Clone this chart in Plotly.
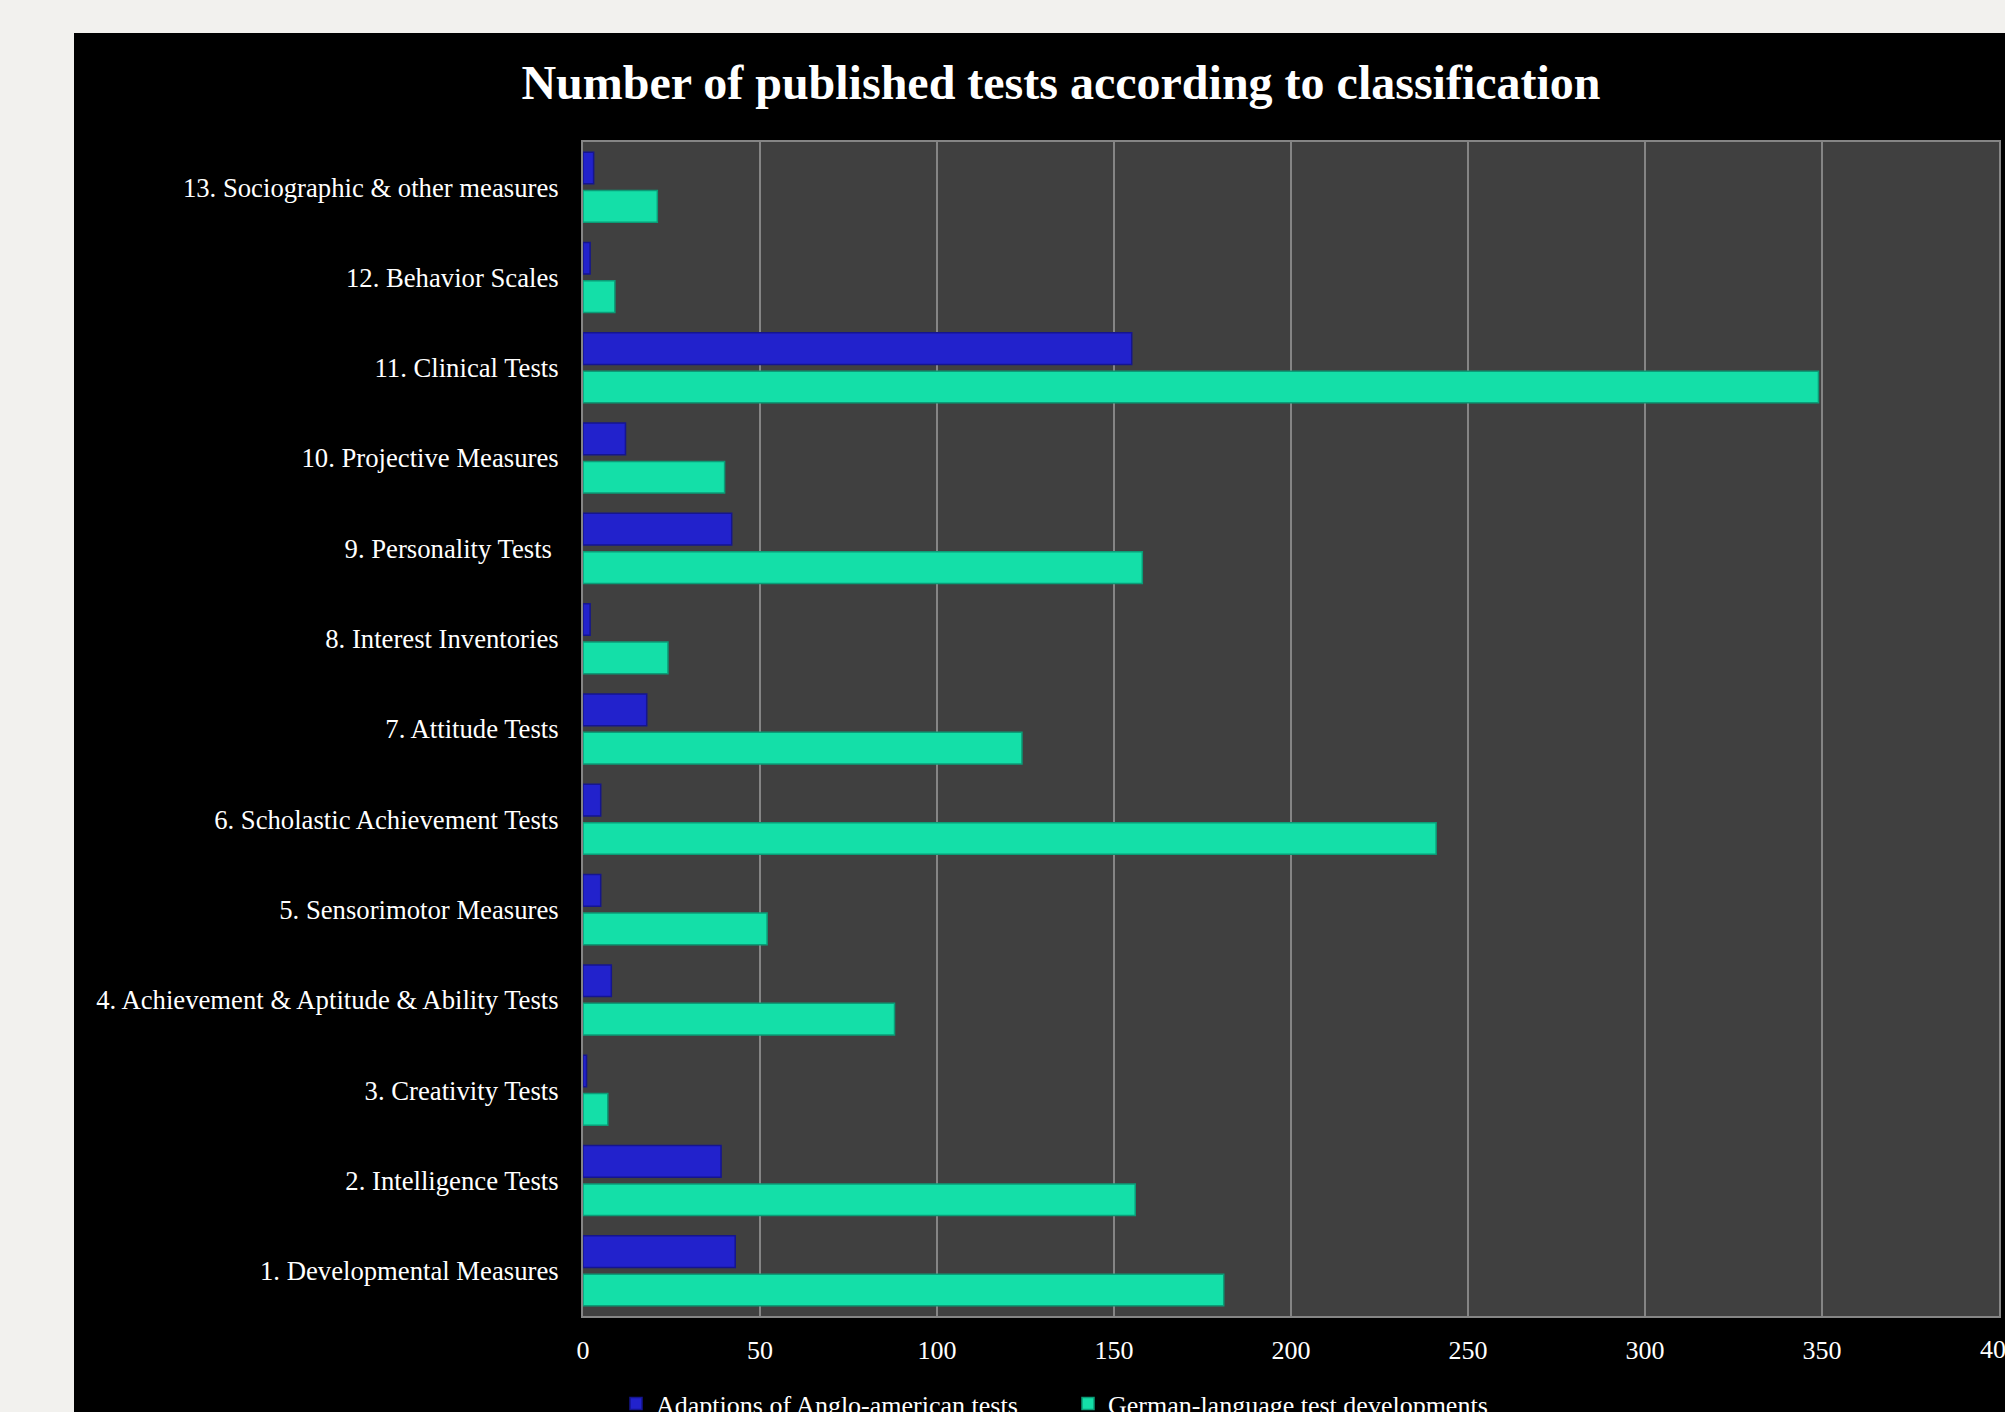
import plotly.graph_objects as go

categories = [
    "1. Developmental Measures",
    "2. Intelligence Tests",
    "3. Creativity Tests",
    "4. Achievement & Aptitude & Ability Tests",
    "5. Sensorimotor Measures",
    "6. Scholastic Achievement Tests",
    "7. Attitude Tests",
    "8. Interest Inventories",
    "9. Personality Tests\u00a0",
    "10. Projective Measures",
    "11. Clinical Tests",
    "12. Behavior Scales",
    "13. Sociographic & other measures",
]
adaptions = [43, 39, 1, 8, 5, 5, 18, 2, 42, 12, 155, 2, 3]
german = [181, 156, 7, 88, 52, 241, 124, 24, 158, 40, 349, 9, 21]
x_ticks = [0, 50, 100, 150, 200, 250, 300, 350]
x_ticklabels = ["0", "50", "100", "150", "200", "250", "300", "350"]
x_last_tick = 400
x_last_label = "400"

title_text = "Number of published tests according to classification"
series_names = ["Adaptions of Anglo-american tests", "German-language test developments"]

W, H = 2005, 1412
ML, MR, MT, MB = 583, 6, 142, 96
PW, PH = W - ML - MR, H - MT - MB

def px_x(p):
    return (p - ML) / PW

def px_y(p):
    return (H - MB - p) / PH

FONT = "Liberation Serif, Times New Roman, serif"

fig = go.Figure()
fig.add_trace(go.Bar(
    y=categories, x=adaptions, orientation="h", name=series_names[0],
    marker=dict(color="#2222cc", line=dict(color="#15158f", width=1.5)),
))
fig.add_trace(go.Bar(
    y=categories, x=german, orientation="h", name=series_names[1],
    marker=dict(color="#14dfa8", line=dict(color="#0b9c77", width=1.5)),
))

fig.add_annotation(
    x=x_last_tick, xref="x", y=px_y(1349), yref="paper",
    text=x_last_label, showarrow=False, xanchor="center", yanchor="middle",
    font=dict(family=FONT, size=26, color="#ffffff"),
)

fig.update_layout(
    width=W, height=H,
    margin=dict(l=ML, r=MR, t=MT, b=MB, pad=0, autoexpand=False),
    paper_bgcolor="#000000",
    plot_bgcolor="#404040",
    barmode="group",
    bargap=0.15,
    bargroupgap=0.175,
    font=dict(family=FONT, color="#ffffff", size=26.7),
    title=dict(
        text="<b>" + title_text + "</b>",
        font=dict(family=FONT, size=48, color="#ffffff"),
        x=1061 / W, xanchor="center", xref="container",
        y=1 - 82 / H, yanchor="middle", yref="container",
    ),
    showlegend=True,
    legend=dict(
        orientation="h",
        x=px_x(616), xanchor="left",
        y=px_y(1380), yanchor="top",
        font=dict(family=FONT, size=26, color="#ffffff"),
        bgcolor="rgba(0,0,0,0)",
        entrywidth=407, entrywidthmode="pixels",
        traceorder="normal",
    ),
    xaxis=dict(
        range=[0, 400], tickvals=x_ticks, ticktext=x_ticklabels,
        showgrid=True, gridcolor="#858585", gridwidth=2,
        zeroline=False,
        showline=True, linecolor="#858585", linewidth=2, mirror=True,
        ticks="outside", ticklen=10, tickcolor="#000000",
        tickfont=dict(family=FONT, size=26, color="#ffffff"),
        fixedrange=True,
    ),
    yaxis=dict(
        categoryorder="array", categoryarray=categories[::-1],
        autorange="reversed",
        showgrid=False, zeroline=False,
        showline=True, linecolor="#858585", linewidth=2, mirror=True,
        ticks="outside", ticklen=17, tickcolor="#000000",
        tickfont=dict(family=FONT, size=26.7, color="#ffffff"),
        fixedrange=True,
    ),
    shapes=[
        dict(type="rect", xref="paper", yref="paper",
             x0=px_x(0), x1=px_x(74), y0=px_y(H), y1=px_y(0),
             fillcolor="#f2f1ee", line=dict(width=0), layer="above"),
        dict(type="rect", xref="paper", yref="paper",
             x0=px_x(0), x1=px_x(W), y0=px_y(33), y1=px_y(0),
             fillcolor="#f2f1ee", line=dict(width=0), layer="above"),
    ],
)

fig.write_html("out.html")
